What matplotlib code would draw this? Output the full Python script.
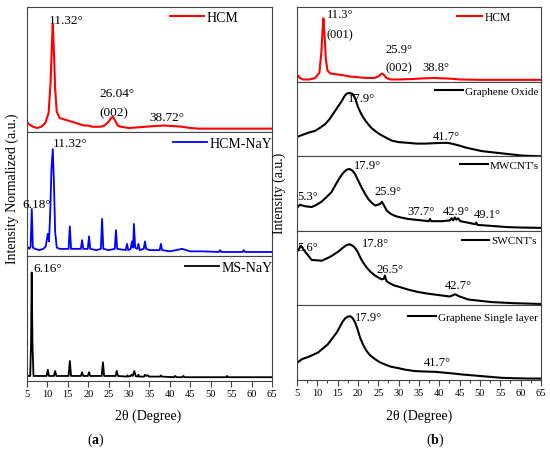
import matplotlib
matplotlib.use('Agg')
import matplotlib.pyplot as plt
from matplotlib.ticker import MultipleLocator

plt.rcParams['font.family'] = ['Liberation Serif', 'DejaVu Serif']
plt.rcParams['mathtext.fontset'] = 'custom'
plt.rcParams['mathtext.rm'] = 'Liberation Serif'
plt.rcParams['mathtext.bf'] = 'Liberation Serif:bold'

# ---- данные (2θ, нормированная интенсивность панели) ----
# (a) HCM
hcm_a_x = [5.0, 5.5, 6.5, 7.5, 8.5, 9.5, 10.3, 10.8, 11.1, 11.32, 11.6, 11.9, 12.3, 13, 14, 15, 16, 17,
           18, 19, 20, 21, 22, 23, 24, 25, 25.6, 26.04, 26.6, 27.2, 28, 30, 32, 34, 36, 38.7, 41, 43,
           45, 47, 50, 55, 60, 65]
hcm_a_y = [0.08, 0.06, 0.04, 0.03, 0.04, 0.07, 0.15, 0.4, 0.7, 0.86, 0.65, 0.35, 0.16, 0.11, 0.10, 0.09,
           0.08, 0.07, 0.06, 0.05, 0.05, 0.04, 0.04, 0.04, 0.05, 0.08, 0.11, 0.12, 0.09, 0.05, 0.04, 0.03,
           0.035, 0.04, 0.045, 0.05, 0.045, 0.04, 0.03, 0.025, 0.025, 0.025, 0.025, 0.025]

# (a) HCM-NaY
nay_x = [5.0, 5.6, 5.9, 6.18, 6.45, 7.0, 8.0, 9.0, 9.6, 10.1, 10.4, 10.7, 11.0, 11.32, 11.6, 11.9, 12.3,
         13.0, 14.0, 15.2, 15.5, 15.8, 17, 18.2, 18.5, 18.8, 19.9, 20.2, 20.5, 22, 23.1, 23.4, 23.7, 25,
         26.5, 26.8, 27.1, 29.2, 29.5, 29.8, 30.4, 30.7, 31.0, 31.2, 31.5, 32.0, 32.3, 32.6, 33.6, 33.9,
         34.2, 35, 37.5, 37.8, 38.1, 40, 41.5, 43, 44, 45, 48, 52, 52.3, 52.6, 55, 57.8, 58.1, 58.4, 62, 65]
nay_y = [0.08, 0.06, 0.08, 0.38, 0.07, 0.06, 0.05, 0.06, 0.08, 0.18, 0.12, 0.35, 0.7, 0.86, 0.6, 0.2, 0.07,
         0.06, 0.06, 0.06, 0.24, 0.06, 0.06, 0.06, 0.13, 0.06, 0.06, 0.16, 0.06, 0.05, 0.06, 0.30, 0.06, 0.05,
         0.06, 0.21, 0.06, 0.05, 0.10, 0.05, 0.06, 0.12, 0.07, 0.26, 0.07, 0.06, 0.10, 0.05, 0.06, 0.12,
         0.06, 0.05, 0.05, 0.10, 0.05, 0.04, 0.05, 0.06, 0.05, 0.04, 0.04, 0.035, 0.05, 0.035, 0.035, 0.035,
         0.05, 0.035, 0.035, 0.035]

# (a) MS-NaY
ms_x = [5.0, 5.8, 6.0, 6.16, 6.35, 6.6, 7.5, 9.8, 10.1, 10.4, 11.6, 11.9, 12.2, 15.2, 15.5, 15.8, 18.2,
        18.5, 18.8, 19.9, 20.2, 20.5, 23.3, 23.6, 23.9, 26.7, 27.0, 27.3, 29.4, 29.6, 29.8, 30.4, 30.6,
        30.9, 31.3, 31.6, 32.1, 32.3, 32.5, 33.7, 33.9, 34.2, 34.6, 34.9, 37.6, 37.8, 38.0, 41, 41.3, 41.6,
        43, 43.3, 43.6, 47, 52, 53.8, 54, 54.2, 58, 65]
ms_y = [0.04, 0.04, 0.3, 0.87, 0.3, 0.04, 0.04, 0.04, 0.09, 0.04, 0.04, 0.08, 0.04, 0.04, 0.16, 0.04, 0.04,
        0.07, 0.04, 0.04, 0.07, 0.04, 0.04, 0.15, 0.04, 0.04, 0.08, 0.04, 0.035, 0.045, 0.035, 0.04, 0.05,
        0.04, 0.08, 0.04, 0.035, 0.05, 0.035, 0.035, 0.05, 0.04, 0.045, 0.035, 0.035, 0.045, 0.035, 0.03,
        0.04, 0.03, 0.03, 0.04, 0.03, 0.03, 0.03, 0.03, 0.04, 0.03, 0.03, 0.03]

# (b) HCM
hcm_b_x = [5.0, 5.3, 5.7, 6.5, 8, 9.5, 10.5, 11.0, 11.3, 11.5, 11.8, 12.1, 12.5, 13.2, 14.5, 16, 18, 20,
           22, 24, 25, 25.6, 25.9, 26.4, 27, 28, 30, 33, 36, 38.8, 41, 43, 45, 50, 55, 65]
hcm_b_y = [0.05, 0.08, 0.05, 0.03, 0.03, 0.05, 0.12, 0.4, 0.7, 0.85, 0.6, 0.3, 0.15, 0.11, 0.10, 0.09,
           0.07, 0.06, 0.05, 0.05, 0.07, 0.10, 0.11, 0.09, 0.05, 0.03, 0.03, 0.035, 0.045, 0.05, 0.045,
           0.04, 0.03, 0.025, 0.025, 0.025]

# (b) Graphene Oxide
go_x = [5, 6, 7, 8, 9.4, 10.6, 11.9, 12.9, 13.9, 15, 16, 16.6, 17.2, 17.9, 18.6, 19.3, 20, 20.6, 21.2,
        21.8, 22.5, 23.3, 24.2, 25.2, 26.2, 27.2, 28.3, 30, 32.4, 34.5, 36.5, 38.5, 40.6, 42, 43, 44.5,
        46.3, 48.3, 50.4, 52.8, 55.3, 57.8, 60.3, 62.5, 65]
go_y = [0.26, 0.28, 0.30, 0.32, 0.34, 0.38, 0.43, 0.49, 0.57, 0.66, 0.74, 0.80, 0.84, 0.85, 0.84, 0.78,
        0.66, 0.59, 0.53, 0.48, 0.43, 0.38, 0.34, 0.30, 0.27, 0.24, 0.21, 0.19, 0.18, 0.17, 0.17, 0.175,
        0.18, 0.18, 0.17, 0.15, 0.12, 0.095, 0.07, 0.055, 0.04, 0.025, 0.01, 0.005, 0.0]

# (b) MWCNT's
mw_x = [5, 5.7, 7, 8.6, 9.8, 11, 12.2, 13.5, 14.5, 15.6, 16.4, 17.2, 17.9, 18.6, 19.3, 20.1, 20.9, 21.7,
        22.5, 23.3, 24.2, 25.4, 25.9, 26.5, 27.1, 28, 29.1, 30.5, 32.3, 35.7, 37.4, 37.7, 38.0, 40.6,
        42.6, 43.0, 43.4, 43.8, 44.2, 44.6, 45.2, 47, 48.8, 49.1, 49.4, 52, 56.9, 60, 65]
mw_y = [0.31, 0.35, 0.33, 0.32, 0.35, 0.39, 0.45, 0.52, 0.62, 0.72, 0.78, 0.82, 0.83, 0.81, 0.76, 0.67,
        0.58, 0.50, 0.43, 0.38, 0.34, 0.36, 0.39, 0.33, 0.27, 0.23, 0.20, 0.18, 0.16, 0.14, 0.13, 0.16,
        0.13, 0.13, 0.14, 0.17, 0.14, 0.18, 0.15, 0.17, 0.13, 0.11, 0.09, 0.11, 0.08, 0.07, 0.05, 0.045,
        0.04]

# (b) SWCNT's
sw_x = [5, 6.0, 7, 8.6, 11.1, 13.1, 15.1, 16.2, 17.2, 18.0, 18.7, 19.3, 19.9, 20.5, 21.2, 22.1, 23.1,
        24.2, 25.8, 26.4, 26.6, 27.0, 27.4, 28.8, 30.7, 32.5, 34.8, 37, 39.7, 42.6, 43.9, 45.0, 47.1,
        52.9, 58.6, 65]
sw_y = [0.72, 0.80, 0.72, 0.61, 0.60, 0.65, 0.72, 0.77, 0.81, 0.82, 0.80, 0.77, 0.72, 0.65, 0.58, 0.51,
        0.45, 0.40, 0.35, 0.36, 0.40, 0.33, 0.31, 0.27, 0.24, 0.21, 0.18, 0.16, 0.14, 0.12, 0.15, 0.12,
        0.08, 0.045, 0.03, 0.02]

# (b) Graphene Single layer
gs_x = [5, 6.2, 7.8, 10.2, 12.6, 13.7, 14.8, 15.6, 16.3, 16.9, 17.5, 17.9, 18.3, 18.8, 19.3, 19.9, 20.5,
        21.2, 22.1, 23.0, 24.2, 25.3, 26.6, 28, 29.9, 31.5, 34, 36, 38.9, 41, 43, 45.5, 48.8, 52, 55.3,
        58, 61.8, 65]
gs_y = [0.23, 0.28, 0.31, 0.37, 0.48, 0.56, 0.64, 0.72, 0.79, 0.83, 0.85, 0.855, 0.85, 0.82, 0.77, 0.68,
        0.57, 0.48, 0.39, 0.33, 0.28, 0.24, 0.21, 0.18, 0.16, 0.14, 0.12, 0.115, 0.11, 0.10, 0.09, 0.075,
        0.06, 0.045, 0.03, 0.025, 0.02, 0.02]

xticks = [5, 10, 15, 20, 25, 30, 35, 40, 45, 50, 55, 60, 65]

fig = plt.figure(figsize=(5.5, 4.52), dpi=100)
gs_a = fig.add_gridspec(3, 1, left=0.049, right=0.4945, bottom=0.155, top=0.982, hspace=0)
gs_b = fig.add_gridspec(5, 1, left=0.54, right=0.9836, bottom=0.157, top=0.982, hspace=0)


def setup(ax, last):
    ax.set_xlim(5, 65)
    ax.set_ylim(0, 1)
    ax.set_yticks([])
    for s in ax.spines.values():
        s.set_linewidth(0.8)
        s.set_color('#444444')
    if last:
        ax.set_xticks(xticks)
        ax.tick_params(axis='x', direction='out', length=4, width=0.8, labelsize=7.5, pad=2,
                       color='#444444')
    else:
        ax.set_xticks([])


def leg(ax, x, y, fs, hl):
    ax.legend(loc='center left', bbox_to_anchor=(x, y), frameon=False, fontsize=fs,
              handlelength=hl, handletextpad=0.2, borderpad=0, borderaxespad=0)


# ---------- (a) ----------
axa = [fig.add_subplot(gs_a[i]) for i in range(3)]
for i, ax in enumerate(axa):
    setup(ax, i == 2)

ax = axa[0]
ax.plot(hcm_a_x, hcm_a_y, color='red', lw=1.5, label='HCM')
ax.text(14.5, 0.9, '11.32°', fontsize=9.5, ha='center', va='center')
ax.text(27.0, 0.31, '26.04°', fontsize=9.5, ha='center', va='center')
ax.text(26.3, 0.16, '(002)', fontsize=9.5, ha='center', va='center')
ax.text(39.3, 0.12, '38.72°', fontsize=9.5, ha='center', va='center')
leg(ax, 0.584, 0.92, 10, 2.45)

ax = axa[1]
ax.plot(nay_x, nay_y, color='blue', lw=1.3, label='HCM-NaY')
ax.text(15.5, 0.91, '11.32°', fontsize=9.5, ha='center', va='center')
ax.text(7.5, 0.42, '6.18°', fontsize=9.5, ha='center', va='center')
leg(ax, 0.596, 0.904, 10, 2.45)

ax = axa[2]
ax.plot(ms_x, ms_y, color='black', lw=1.3, label='MS-NaY')
ax.text(10.2, 0.91, '6.16°', fontsize=9.5, ha='center', va='center')
leg(ax, 0.645, 0.912, 10, 2.45)

# ---------- (b) ----------
axb = [fig.add_subplot(gs_b[i]) for i in range(5)]
for i, ax in enumerate(axb):
    setup(ax, i == 4)
axb[4].xaxis.set_minor_locator(MultipleLocator(2.5))
axb[4].tick_params(axis='x', which='minor', direction='out', length=2, width=0.8, color='#444444')

ax = axb[0]
ax.plot(hcm_b_x, hcm_b_y, color='red', lw=1.5, label='HCM')
ax.text(15.6, 0.91, '11.3°', fontsize=9, ha='center', va='center')
ax.text(15.6, 0.64, '(001)', fontsize=9, ha='center', va='center')
ax.text(30.1, 0.44, '25.9°', fontsize=9, ha='center', va='center')
ax.text(30.1, 0.20, '(002)', fontsize=9, ha='center', va='center')
ax.text(39.1, 0.20, '38.8°', fontsize=9, ha='center', va='center')
leg(ax, 0.656, 0.87, 8.3, 2.2)

ax = axb[1]
ax.plot(go_x, go_y, color='black', lw=1.5, label='Graphene Oxide')
ax.text(20.9, 0.78, '17.9°', fontsize=9, ha='center', va='center')
ax.text(41.8, 0.27, '41.7°', fontsize=9, ha='center', va='center')
leg(ax, 0.566, 0.88, 8, 2.5)

ax = axb[2]
ax.plot(mw_x, mw_y, color='black', lw=1.5, label="MWCNT's")
ax.text(22.3, 0.88, '17.9°', fontsize=9, ha='center', va='center')
ax.text(7.7, 0.47, '5.3°', fontsize=9, ha='center', va='center')
ax.text(27.4, 0.54, '25.9°', fontsize=9, ha='center', va='center')
ax.text(35.5, 0.26, '37.7°', fontsize=9, ha='center', va='center')
ax.text(44.1, 0.27, '42.9°', fontsize=9, ha='center', va='center')
ax.text(51.7, 0.23, '49.1°', fontsize=9, ha='center', va='center')
leg(ax, 0.668, 0.88, 8, 2.5)

ax = axb[3]
ax.plot(sw_x, sw_y, color='black', lw=1.5, label="SWCNT's")
ax.text(7.7, 0.78, '5.6°', fontsize=9, ha='center', va='center')
ax.text(24.3, 0.84, '17.8°', fontsize=9, ha='center', va='center')
ax.text(27.9, 0.49, '26.5°', fontsize=9, ha='center', va='center')
ax.text(44.6, 0.27, '42.7°', fontsize=9, ha='center', va='center')
leg(ax, 0.675, 0.87, 8, 2.5)

ax = axb[4]
ax.plot(gs_x, gs_y, color='black', lw=1.5, label='Graphene Single layer')
ax.text(22.5, 0.85, '17.9°', fontsize=9, ha='center', va='center')
ax.text(39.6, 0.24, '41.7°', fontsize=9, ha='center', va='center')
leg(ax, 0.454, 0.845, 8, 2.5)

# подписи осей
fig.text(12.7 / 550, 1 - 189 / 452, 'Intensity Normalized (a.u.)', rotation=90, fontsize=10,
         ha='center', va='center')
fig.text(279 / 550, 1 - 193 / 452, 'Intensity (a.u.)', rotation=90, fontsize=10,
         ha='center', va='center')
fig.text(148 / 550, 1 - 416 / 452, '2θ (Degree)', fontsize=10, ha='center', va='center')
fig.text(419 / 550, 1 - 416 / 452, '2θ (Degree)', fontsize=10, ha='center', va='center')
fig.text(96 / 550, 1 - 440 / 452, r'($\mathbf{a}$)', fontsize=10, ha='center', va='center')
fig.text(435 / 550, 1 - 440 / 452, r'($\mathbf{b}$)', fontsize=10, ha='center', va='center')

fig.savefig('out.png', dpi=100)
